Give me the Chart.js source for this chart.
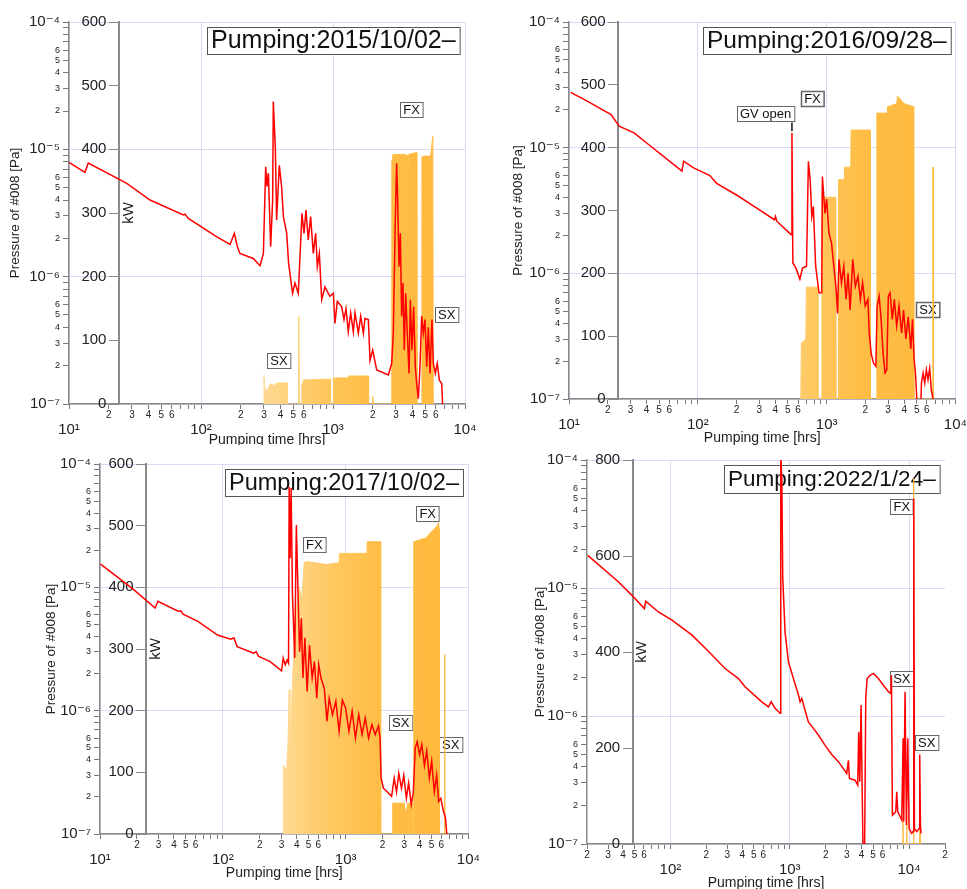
<!DOCTYPE html>
<html>
<head>
<meta charset="utf-8">
<title>Pumping history</title>
<script src="https://cdn.jsdelivr.net/npm/chart.js@4.4.1/dist/chart.umd.min.js"></script>
<style>
  html, body { margin: 0; padding: 0; background: #fff; }
  body { position: relative; width: 967px; height: 889px; overflow: hidden; }
  .panel { position: absolute; }
</style>
</head>
<body>
<div class="panel" style="left:0px;top:0px;width:480px;height:445px"><canvas id="chart1"></canvas></div>
<div class="panel" style="left:485px;top:0px;width:482px;height:445px"><canvas id="chart2"></canvas></div>
<div class="panel" style="left:0px;top:445px;width:480px;height:444px"><canvas id="chart3"></canvas></div>
<div class="panel" style="left:485px;top:445px;width:482px;height:444px"><canvas id="chart4"></canvas></div>
<script>
// ---- 2015/10/02 run ----
var p1Hours = [10,13.2,14.0,27.4,41.1,73.5,75.7,80.2,131,166,179,188,197,249,280,297,309,316,324,337,349,353,366,374,392,408,421,446,461,494,515,546,582,603,624,650,677,709,739,761,788,821,869,948,1006,1035,1078,1164,1211,1254,1306,1361,1425,1468,1556,1621,1697,1746,1853,1907,1998,2143,2627,2782,2864,2951,3034,3090,3162,3236,3311,3388,3467,3553,3656,3767,3855,3965,4083,4205,4302,4428,4560,4696,4831,4977,5129,5275,5433,5623,5754,5957,6166,6391,6655,6770];
var p1Pressure = [7.9e-6,6.6e-6,7.8e-6,5.4e-6,4.0e-6,3.05e-6,3.1e-6,2.87e-6,2.06e-6,1.79e-6,2.19e-6,1.74e-6,1.52e-6,1.39e-6,1.22e-6,1.52e-6,7.3e-6,5.1e-6,6.5e-6,1.72e-6,4.0e-6,2.37e-5,9.9e-6,2.79e-6,7.5e-6,5.1e-6,2.96e-6,2.19e-6,1.27e-6,7.4e-7,8.9e-7,7.4e-7,3.14e-6,2.19e-6,3.34e-6,1.94e-6,2.96e-6,1.52e-6,2.19e-6,1.2e-6,1.52e-6,6.6e-7,8.3e-7,7.0e-7,7.4e-7,4.3e-7,6.4e-7,5.8e-7,4.6e-7,5.6e-7,3.7e-7,5.2e-7,3.7e-7,5.2e-7,3.6e-7,4.9e-7,3.6e-7,4.7e-7,4.6e-7,2.2e-7,2.65e-7,1.85e-7,1.69e-7,2.08e-7,3.6e-7,2.19e-6,7.76e-6,4.0e-6,1.2e-6,2.19e-6,4.9e-7,8.9e-7,2.65e-7,7.4e-7,3.6e-7,1.74e-7,6.6e-7,2.65e-7,5.8e-7,1.96e-7,1.45e-7,1.1e-7,1.96e-7,4.9e-7,3.6e-7,4.6e-7,1.96e-7,4.0e-7,1.74e-7,4.6e-7,2.08e-7,1.74e-7,2.08e-7,1.54e-7,1.45e-7,1.0e-7];
var p1KwHours = [297,300,306,312,320,330,345,360,372,450,452,545,550,556,575,580,600,650,655,665,950,955,1000,1005,1300,1310,1850,1860,1990,2000,2020,2760,2790,2850,3300,3320,3350,3500,3520,3540,3700,3730,3760,4290,4320,4700,4720,5100,5120,5140,5500,5700,5750];
var p1Kw = [0,45,15,25,20,30,32,28,33,33,0,0,137,0,0,30,38,38,0,38,39,0,0,41,41,44,44,0,0,12,0,0,380,392,392,0,392,392,0,392,390,0,392,395,0,0,388,390,0,388,390,420,0];

// ---- 2016/09/28 run ----
var p2Hours = [10.3,13.2,21.2,24.5,32.0,40.5,54.5,75.3,77.6,92.7,124,140,200,301,393,401,410,513,532,538,547,578,620,650,698,722,745,767,789,822,873,916,927,971,1000,1042,1092,1138,1186,1216,1245,1304,1359,1416,1468,1521,1595,1671,1752,1827,1903,1995,2092,2142,2218,2312,2411,2467,2557,2649,2743,2843,2929,3014,3105,3236,3356,3499,3647,3822,3956,4124,4300,4505,4643,4780,4895,5012,5070,5370,5445,5610,5777,5946,6123,6310,6501,6700];
var p2Pressure = [2.75e-5,2.41e-5,1.83e-5,1.48e-5,1.31e-5,1.08e-5,8.5e-6,6.5e-6,7.8e-6,6.9e-6,6.0e-6,5.2e-6,4.2e-6,3.2e-6,2.67e-6,2.84e-6,2.6e-6,2.1e-6,2.03e-6,1.31e-5,1.21e-6,1.1e-6,9.0e-7,1.1e-6,1.14e-6,7.8e-6,5.6e-6,2.84e-6,3.4e-6,1.14e-6,7.0e-7,7.0e-7,5.9e-6,3.0e-6,3.9e-6,2.1e-6,1.74e-6,1.14e-6,7.4e-7,4.8e-7,1.29e-6,8.4e-7,1.14e-6,6.2e-7,1.0e-6,5.1e-7,1.29e-6,7.9e-7,9.5e-7,6.2e-7,8.4e-7,5.5e-7,6.2e-7,3.35e-7,2.3e-7,1.93e-7,1.82e-7,5.5e-7,6.6e-7,4.3e-7,2.3e-7,1.61e-7,1.71e-7,6.6e-7,7.0e-7,4.3e-7,6.2e-7,3.8e-7,5.5e-7,3.35e-7,5.1e-7,3.0e-7,4.5e-7,2.5e-7,4.3e-7,2.06e-7,1.61e-7,1.0e-7,8e-8,8e-8,1.34e-7,1.61e-7,1.34e-7,1.71e-7,1.43e-7,1.75e-7,1.18e-7,1.0e-7];
var p2KwHours = [630,637,690,696,850,857,915,920,930,1180,1186,1230,1237,1370,1376,1540,1549,2175,2183,2448,2455,2950,2962,2975,3500,3550,4000,4760,4780,6690,6714,6740];
var p2Kw = [0,89,95,178,178,0,0,330,321,321,0,0,349,349,369,369,428,428,0,0,455,455,0,465,470,482,470,465,0,0,369,0];

// ---- 2017/10/02 run ----
var p3Hours = [10.1,18.3,28.1,29.6,43.3,45.5,47.5,62.7,90.6,116,123,131,178,187,196,243,301,310,322,334,343,347,353,360,369,385,397,410,422,436,449,466,486,508,534,557,582,604,630,670,705,735,782,832,885,940,1000,1064,1130,1202,1279,1361,1445,1538,1636,1741,1849,1908,1945,2030,2227,2368,2487,2596,2711,2849,2974,3123,3260,3424,3555,3690,3830,4000,4171,4383,4575,4804,5020,5275,5508,5715,5960,6266,6500,6670];
var p3Pressure = [1.54e-5,9.8e-6,6.8e-6,7.7e-6,6.4e-6,6.45e-6,6.05e-6,5.3e-6,4.1e-6,3.8e-6,3.9e-6,3.3e-6,2.92e-6,3.0e-6,2.75e-6,2.5e-6,2.1e-6,2.67e-6,2.36e-6,2.58e-6,2.43e-6,6.5e-5,1.72e-5,6.4e-5,8.7e-6,2.67e-6,3.2e-5,8.7e-6,3.0e-6,5.6e-6,1.84e-6,3.9e-6,1.43e-6,3.4e-6,1.84e-6,2.5e-6,1.26e-6,2.36e-6,1.84e-6,1.52e-6,8.2e-7,1.26e-6,9.3e-7,1.19e-6,6.8e-7,1.22e-6,1.05e-6,6.8e-7,9.9e-7,6.0e-7,9.3e-7,6.4e-7,8.7e-7,6.0e-7,7.7e-7,6.4e-7,7.5e-7,6.0e-7,2.84e-7,2.35e-7,2.15e-7,2.02e-7,2.84e-7,2.2e-7,3.1e-7,2.35e-7,3.0e-7,1.95e-7,2.6e-7,1.73e-7,2.15e-7,5.0e-7,5.6e-7,4.4e-7,5.3e-7,3.6e-7,4.7e-7,2.84e-7,3.9e-7,2.2e-7,3.0e-7,1.84e-7,1.95e-7,1.52e-7,1.35e-7,1.0e-7];
var p3KwHours = [310,312,330,340,347,352,370,390,420,440,460,477,700,885,890,1493,1500,1908,1930,2400,2420,3000,3100,3200,3520,3540,3580,3600,4500,5000,5600,5700,5780,5800,6390,6410,6430];
var p3Kw = [0,112,100,150,234,120,250,350,400,380,440,442,437,440,455,455,474,474,0,0,50,50,30,50,50,0,0,474,480,490,500,505,495,0,0,291,0];

// ---- 2022/1/24 run ----
var p4Hours = [20.3,36.6,47.4,60.5,62.1,79.3,103,151,208,287,372,422,583,663,698,754,830,841,858,874,914,975,1074,1183,1222,1262,1432,1578,1738,1977,2248,2558,3004,3102,3162,3527,3714,3784,3862,3962,4040,4140,4226,4335,4447,4712,5024,5531,6092,6711,7021,7115,7251,7733,7880,8037,8683,8914,9020,9250,9500,9750,10000,10520,10800,10950,11090,11600,12130,12280,12450,12610];
var p4Pressure = [1.8e-5,1.12e-5,8.8e-6,6.9e-6,7.9e-6,6.5e-6,5.6e-6,4.3e-6,3.2e-6,2.35e-6,1.96e-6,1.69e-6,1.29e-6,1.18e-6,1.29e-6,1.15e-6,1.05e-6,1.1e-4,7.1e-5,1.19e-5,4.5e-6,2.65e-6,1.96e-6,1.46e-6,1.29e-6,1.37e-6,9.0e-7,8.0e-7,7.1e-7,5.9e-7,5.0e-7,4.4e-7,3.56e-7,4.5e-7,3.25e-7,3.15e-7,2.88e-7,7.5e-7,3.06e-7,1.22e-6,2.88e-7,6e-8,6e-8,1.37e-6,1.96e-6,2.08e-6,2.15e-6,1.96e-6,1.74e-6,1.55e-6,1.5e-6,2.08e-6,1.68e-7,1.79e-7,2.56e-7,1.79e-7,1.54e-7,6.7e-7,1.5e-7,1.55e-6,1.41e-7,6.7e-7,1.32e-7,1.21e-7,1.25e-7,5.0e-5,1.32e-7,1.25e-7,1.32e-7,5.0e-7,1.41e-7,1.21e-7];
var p4KwHours = [8850,8890,8930,9520,9560,9600,10850,10900,10950,12300,12350,12400];
var p4Kw = [0,53,0,0,60,0,0,761,0,0,33,0];

// tick labels: decades get 10^n, these significands get a small digit
var labelledDigits = [2, 3, 4, 5, 6];
var supDigits = {'-': '\u207B', '0': '\u2070', '1': '\u00B9', '2': '\u00B2', '3': '\u00B3', '4': '\u2074', '5': '\u2075', '6': '\u2076', '7': '\u2077', '8': '\u2078', '9': '\u2079'};

var FONT = "'Liberation Sans', 'DejaVu Sans', Arial, sans-serif";
Chart.defaults.font.family = FONT;
Chart.defaults.color = '#222';

function pts(xs, ys) {
    return xs.map(function (x, i) { return {x: x, y: ys[i]}; });
}

function decadeLabel(v) {
    var e = String(Math.round(Math.log10(v)));
    return '10' + e.split('').map(function (c) { return supDigits[c]; }).join('');
}

function significand(v) {
    var e = Math.floor(Math.log10(v) + 1e-9);
    return Math.round(v / Math.pow(10, e));
}

// 1..9 x 10^n ticks inside the axis range
function logTicks(scale) {
    var ticks = [];
    var e0 = Math.floor(Math.log10(scale.min) + 1e-9);
    var e1 = Math.ceil(Math.log10(scale.max) - 1e-9);
    for (var e = e0; e <= e1; e++) {
        for (var s = 1; s <= 9; s++) {
            var v = Number(s + 'e' + e);
            if (v >= scale.min * 0.999 && v <= scale.max * 1.001) {
                ticks.push({value: v, major: s === 1});
            }
        }
    }
    scale.ticks = ticks;
}

function orangeFill(c) {
    var a = c.chart.chartArea;
    if (!a) return '#ffc04d';
    var g = c.chart.ctx.createLinearGradient(a.left, 0, a.right, 0);
    g.addColorStop(0, '#ffe0a6');
    g.addColorStop(0.5, '#ffd890');
    g.addColorStop(0.63, '#ffc860');
    g.addColorStop(0.76, '#ffbd45');
    g.addColorStop(1, '#ffb93c');
    return g;
}

var gridColor = function (c) { return (c.tick && c.tick.major) ? 'rgba(214,214,246,0.9)' : 'rgba(0,0,0,0)'; };

// boxed title, FX / SX notes and the kW name
var annotate = {
    id: 'annotate',
    beforeDatasetsDraw: function (chart, args, o) {
        var ctx = chart.ctx, area = chart.chartArea;
        var sx = chart.scales.x, sk = chart.scales.kw;
        ctx.save();

        ctx.font = o.titleSize + 'px ' + FONT;
        var w = ctx.measureText(o.title).width + 8;
        var bh = o.titleH;
        var bx = Math.round(area.right - 5 - w), by = Math.round(area.top + 5);
        ctx.fillStyle = '#fff';
        ctx.fillRect(bx, by, w, bh);
        ctx.strokeStyle = '#555';
        ctx.lineWidth = 1;
        ctx.strokeRect(bx + 0.5, by + 0.5, w, bh);
        ctx.fillStyle = '#111';
        ctx.textAlign = 'left';
        ctx.textBaseline = 'middle';
        ctx.fillText(o.title, bx + 4, by + bh / 2 + 1);

        ctx.font = '13px ' + FONT;
        o.notes.forEach(function (n) {
            var cx = sx.getPixelForValue(n.x), cy = sk.getPixelForValue(n.y);
            var tw = ctx.measureText(n.text).width + 6, th = 15;
            var lx = Math.round(cx - tw / 2), ty = Math.round(cy - th / 2);
            ctx.fillStyle = '#fff';
            ctx.fillRect(lx, ty, tw, th);
            ctx.strokeStyle = '#666';
            ctx.strokeRect(lx + 0.5, ty + 0.5, tw, th);
            ctx.fillStyle = '#111';
            ctx.textAlign = 'center';
            ctx.fillText(n.text, cx, ty + th / 2 + 1);
            if (n.mark) {
                var mx = sx.getPixelForValue(n.mark[0]);
                ctx.beginPath();
                ctx.moveTo(mx, sk.getPixelForValue(n.mark[1]));
                ctx.lineTo(mx, sk.getPixelForValue(n.mark[2]));
                ctx.strokeStyle = '#111';
                ctx.lineWidth = 1.5;
                ctx.stroke();
            }
        });

        if (o.kwName) {
            ctx.translate(sx.getPixelForValue(o.kwAt) + 2, (sk.top + sk.bottom) / 2);
            ctx.rotate(-Math.PI / 2);
            ctx.font = '15px ' + FONT;
            ctx.fillStyle = '#222';
            ctx.textAlign = 'center';
            ctx.textBaseline = 'top';
            ctx.fillText('kW', 0, 0);
        }
        ctx.restore();
    }
};

var panels = [
    {id: 'chart1', title: 'Pumping:2015/10/02\u2013', titleSize: 25, titleH: 27,
     hours: p1Hours, pressure: p1Pressure, kwHours: p1KwHours, kw: p1Kw,
     xMin: 10, xMax: 1e4, kwMax: 600, kwStep: 100, kwAt: 23.9, kwName: true,
     yAxisW: 69, xAxisH: 41, padTop: 22, padRight: 15, yTitlePad: 7, xTitlePad: -4,
     notes: [{text: 'FX', x: 3945, y: 463}, {text: 'SX', x: 390, y: 68}, {text: 'SX', x: 7260, y: 141}]},
    {id: 'chart2', title: 'Pumping:2016/09/28\u2013', titleSize: 24.5, titleH: 27,
     hours: p2Hours, pressure: p2Pressure, kwHours: p2KwHours, kw: p2Kw,
     xMin: 10, xMax: 1e4, kwMax: 600, kwStep: 100, kwAt: 24.1, kwName: false,
     yAxisW: 84, xAxisH: 46, padTop: 22, padRight: 9, yTitlePad: 25, xTitlePad: -2,
     notes: [{text: 'GV open', x: 336, y: 455, mark: [538, 440, 426]}, {text: 'FX', x: 776, y: 478}, {text: 'SX', x: 6120, y: 142}]},
    {id: 'chart3', title: 'Pumping:2017/10/02\u2013', titleSize: 23.5, titleH: 27,
     hours: p3Hours, pressure: p3Pressure, kwHours: p3KwHours, kw: p3Kw,
     xMin: 10, xMax: 1e4, kwMax: 600, kwStep: 100, kwAt: 23.7, kwName: true,
     yAxisW: 100, xAxisH: 55, padTop: 19, padRight: 7, yTitlePad: 43, xTitlePad: 7,
     notes: [{text: 'FX', x: 557, y: 470}, {text: 'FX', x: 4660, y: 520}, {text: 'SX', x: 2812, y: 181}, {text: 'SX', x: 7180, y: 145}]},
    {id: 'chart4', title: 'Pumping:2022/1/24\u2013', titleSize: 22.5, titleH: 28,
     hours: p4Hours, pressure: p4Pressure, kwHours: p4KwHours, kw: p4Kw,
     xMin: 20, xMax: 2e4, kwMax: 800, kwStep: 200, kwAt: 48.3, kwName: true,
     yAxisW: 102, xAxisH: 45, padTop: 15, padRight: 22, yTitlePad: 47, xTitlePad: -3,
     notes: [{text: 'FX', x: 8690, y: 704}, {text: 'SX', x: 8690, y: 345}, {text: 'SX', x: 14060, y: 212}]}
];

function makeChart(p) {
    return new Chart(document.getElementById(p.id), {
        type: 'line',
        data: {
            datasets: [{
                label: 'Pressure',
                data: pts(p.hours, p.pressure),
                yAxisID: 'y',
                borderColor: 'rgb(255, 0, 0)',
                borderWidth: 1.5,
                pointRadius: 0,
                tension: 0
            }, {
                label: 'kW',
                data: pts(p.kwHours, p.kw),
                yAxisID: 'kw',
                borderColor: orangeFill,
                backgroundColor: orangeFill,
                borderWidth: 1,
                fill: 'origin',
                pointRadius: 0,
                tension: 0
            }]
        },
        options: {
            responsive: true,
            maintainAspectRatio: false,
            animation: false,
            devicePixelRatio: 1,
            layout: {padding: {left: 0, top: p.padTop, right: p.padRight, bottom: 0}, autoPadding: false},
            plugins: {
                legend: {display: false},
                tooltip: {enabled: false},
                annotate: {title: p.title, titleSize: p.titleSize, titleH: p.titleH, notes: p.notes, kwAt: p.kwAt, kwName: p.kwName}
            },
            scales: {
                x: {
                    type: 'logarithmic', position: 'bottom', min: p.xMin, max: p.xMax,
                    afterBuildTicks: logTicks,
                    afterFit: function (s) { s.height = p.xAxisH; },
                    border: {color: '#8a8a8a', width: 1.5},
                    grid: {color: gridColor, tickColor: '#777', tickLength: 5},
                    ticks: {
                        autoSkip: false, maxRotation: 0, minRotation: 0, padding: 0, color: '#222',
                        font: function (c) { return (c.tick && c.tick.major) ? {size: 15, lineHeight: 0.93} : {size: 10}; },
                        callback: function (v) {
                            var s = significand(v);
                            if (s === 1) return ['', decadeLabel(v)];
                            return labelledDigits.indexOf(s) >= 0 ? String(s) : '';
                        }
                    },
                    title: {display: true, text: 'Pumping time [hrs]', font: {size: 14}, color: '#222', padding: {top: 0, bottom: p.xTitlePad}}
                },
                y: {
                    type: 'logarithmic', position: 'left', min: 1e-7, max: 1e-4,
                    afterBuildTicks: logTicks,
                    afterFit: function (s) { s.width = p.yAxisW; },
                    border: {color: '#8a8a8a', width: 1.5},
                    grid: {color: gridColor, tickColor: '#777', tickLength: 6},
                    ticks: {
                        autoSkip: false, padding: 3, color: '#222',
                        font: function (c) { return (c.tick && c.tick.major) ? {size: 15} : {size: 9}; },
                        callback: function (v) {
                            var s = significand(v);
                            if (s === 1) return decadeLabel(v);
                            return labelledDigits.indexOf(s) >= 0 ? String(s) : '';
                        }
                    },
                    title: {display: true, text: 'Pressure of #008 [Pa]', font: {size: 13.5}, color: '#222', padding: {top: p.yTitlePad, bottom: 0}}
                },
                kw: {
                    type: 'linear', position: {x: p.kwAt}, min: 0, max: p.kwMax,
                    border: {color: '#8a8a8a', width: 2},
                    grid: {drawOnChartArea: false, color: '#8a8a8a', tickLength: 9},
                    ticks: {
                        stepSize: p.kwStep, color: '#222', font: {size: 15},
                        callback: function (v) { return v + '   '; }
                    }
                }
            }
        },
        plugins: [annotate]
    });
}

panels.forEach(makeChart);
</script>
</body>
</html>
